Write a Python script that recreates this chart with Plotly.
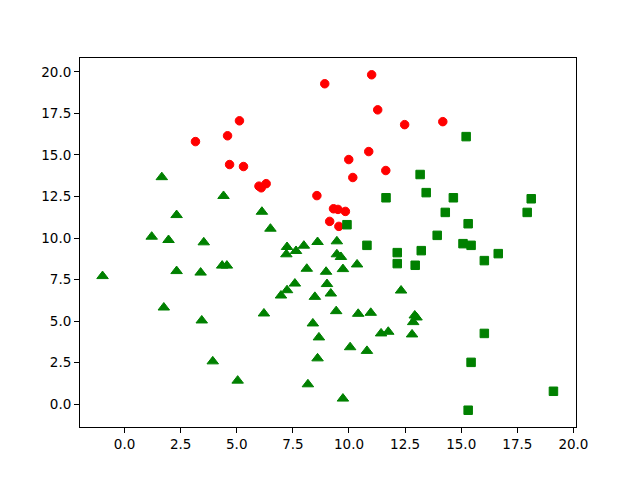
import plotly.graph_objects as go

# red circles
red_x = [11.01, 8.92, 11.28, 12.48, 14.18, 5.12, 4.59, 3.16, 4.68, 5.30, 9.99, 10.88,
         11.64, 10.17, 5.99, 6.09, 6.31, 8.57, 9.31, 9.51, 9.84, 9.14, 9.55]
red_y = [19.82, 19.28, 17.71, 16.82, 17.00, 17.05, 16.15, 15.80, 14.42, 14.30, 14.72, 15.20,
         14.06, 13.64, 13.12, 13.02, 13.27, 12.55, 11.76, 11.72, 11.60, 11.00, 10.70]

# green squares
sq_x = [15.22, 13.17, 13.44, 14.65, 11.65, 18.12, 14.29, 17.94, 15.31, 9.91, 13.93, 10.80,
        12.15, 13.22, 15.08, 15.44, 12.15, 12.95, 16.03, 16.65, 16.03, 15.44, 19.11, 15.31]
sq_y = [16.10, 13.82, 12.73, 12.42, 12.42, 12.36, 11.54, 11.54, 10.86, 10.80, 10.16, 9.56,
        9.12, 9.24, 9.66, 9.56, 8.46, 8.36, 8.64, 9.06, 4.26, 2.52, 0.78, -0.36]

# green triangles
tri_x = [1.21, 1.96, 3.53, 7.24, 7.21, 7.64, 7.99, 8.60, 9.46, 9.46, 9.64, -0.98, 2.32,
         3.39, 4.35, 4.56, 8.12, 8.98, 9.73, 10.36, 9.02, 9.19, 7.59, 7.24, 6.97, 8.48,
         12.32, 1.75, 6.21, 9.43, 10.41, 10.97, 12.93, 13.01, 12.86, 3.44, 8.39, 8.66,
         11.43, 11.75, 12.81, 10.05, 10.80, 8.60, 3.93, 5.04, 8.17, 9.73, 1.66, 4.41,
         2.32, 6.12, 6.50]
tri_y = [10.08, 9.88, 9.74, 9.46, 9.02, 9.22, 9.54, 9.76, 9.80, 9.02, 8.86, 7.71, 8.01,
         7.92, 8.34, 8.34, 8.15, 7.97, 8.13, 8.41, 7.23, 6.66, 7.26, 6.86, 6.54, 6.46,
         6.84, 5.82, 5.46, 5.60, 5.44, 5.50, 5.34, 5.22, 4.94, 5.04, 4.86, 4.02,
         4.26, 4.36, 4.20, 3.43, 3.21, 2.76, 2.58, 1.42, 1.20, 0.34, 13.66, 12.53,
         11.38, 11.58, 10.56]

fig = go.Figure()
fig.add_trace(go.Scatter(x=red_x, y=red_y, mode='markers',
                         marker=dict(symbol='circle', size=8.5, color='#ff0000',
                                     line=dict(color='#ff0000', width=1))))
fig.add_trace(go.Scatter(x=sq_x, y=sq_y, mode='markers',
                         marker=dict(symbol='square', size=8.5, color='#008000',
                                     line=dict(color='#008000', width=1))))
fig.add_trace(go.Scatter(x=tri_x, y=tri_y, mode='markers',
                         marker=dict(symbol='triangle-up', size=10, color='#008000',
                                     line=dict(color='#008000', width=1))))

# matplotlib-style 5% padding
all_x = red_x + sq_x + tri_x
all_y = red_y + sq_y + tri_y
px_ = (max(all_x) - min(all_x)) * 0.05
py_ = (max(all_y) - min(all_y)) * 0.05

axis_style = dict(showgrid=False, zeroline=False, showline=True, mirror=True,
                  linecolor='black', linewidth=1, ticks='outside', ticklen=5,
                  tickwidth=1, tickcolor='black', dtick=2.5, tick0=0,
                  tickformat='.1f', tickfont=dict(family='DejaVu Sans', size=13.5, color='black'))

# page has an 8px body margin, so margins are shifted to compensate
fig.update_layout(
    width=640, height=480,
    margin=dict(l=72, r=72, t=50, b=61),
    plot_bgcolor='white', paper_bgcolor='white',
    showlegend=False,
    xaxis=dict(range=[min(all_x) - px_, max(all_x) + px_], **axis_style),
    yaxis=dict(range=[min(all_y) - py_, max(all_y) + py_], **axis_style),
)

fig.write_html("out.html")
